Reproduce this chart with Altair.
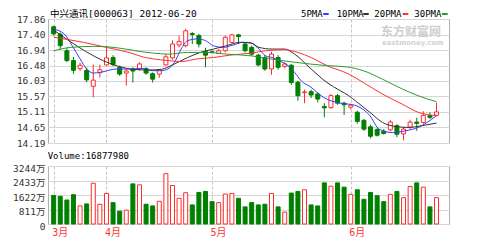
import altair as alt
import pandas as pd

FONT = "DejaVu Sans Mono, Noto Sans CJK SC"

# ---------------- data ----------------
opens = [17.63, 17.41, 16.92, 16.63, 16.39, 16.34, 15.87, 16.27, 16.50, 16.72,
         16.43, 16.26, 16.37, 16.38, 16.39, 16.24, 16.23, 16.50, 16.71, 17.09,
         17.07, 17.43, 17.37, 16.90, 16.89, 16.84, 16.92, 17.17, 17.39, 17.12,
         17.02, 16.79, 16.72, 16.38, 16.72, 16.46, 16.49, 15.99, 15.68, 15.71,
         15.64, 15.27, 15.24, 15.59, 15.37, 15.25, 15.10, 14.86, 14.67, 14.59,
         14.54, 14.58, 14.70, 14.46, 14.66, 14.81, 14.80, 15.00, 15.01]
highs = [17.66, 17.46, 17.01, 16.74, 16.57, 16.42, 16.51, 16.51, 17.02, 16.79,
         16.48, 16.37, 16.43, 16.58, 16.43, 16.28, 16.38, 16.82, 17.23, 17.37,
         17.57, 17.48, 17.42, 17.01, 16.93, 16.97, 17.37, 17.42, 17.42, 17.17,
         17.07, 16.83, 16.79, 16.89, 16.79, 16.58, 16.53, 16.03, 15.77, 15.77,
         15.69, 15.37, 15.64, 15.64, 15.41, 15.35, 15.15, 14.90, 14.73, 14.63,
         14.60, 14.87, 14.75, 14.67, 14.88, 14.94, 15.13, 15.10, 15.38]
lows = [17.37, 16.95, 16.58, 16.24, 16.33, 15.99, 15.54, 16.13, 16.48, 16.46,
        16.18, 15.89, 15.98, 16.33, 16.21, 15.98, 16.12, 16.48, 16.66, 17.02,
        17.02, 17.12, 17.02, 16.43, 16.84, 16.82, 16.87, 17.14, 17.12, 16.87,
        16.77, 16.46, 16.33, 16.21, 16.36, 16.40, 15.91, 15.44, 15.37, 15.52,
        15.39, 14.95, 15.20, 15.32, 15.02, 15.18, 14.76, 14.55, 14.33, 14.38,
        14.44, 14.54, 14.36, 14.27, 14.60, 14.55, 14.76, 14.90, 14.98]
closes = [17.42, 17.07, 16.63, 16.34, 16.49, 16.06, 16.05, 16.36, 16.71, 16.51,
          16.23, 16.32, 16.32, 16.53, 16.26, 16.08, 16.35, 16.74, 17.12, 17.19,
          17.51, 17.40, 17.12, 16.79, 16.87, 16.92, 17.32, 17.39, 17.34, 16.92,
          16.82, 16.50, 16.38, 16.82, 16.43, 16.53, 15.98, 15.59, 15.70, 15.61,
          15.49, 15.23, 15.59, 15.37, 15.32, 15.31, 14.83, 14.60, 14.39, 14.42,
          14.47, 14.81, 14.45, 14.60, 14.81, 14.77, 15.01, 14.95, 15.11]
volumes = [1600, 1546, 1343, 1638, 1012, 1122, 2282, 1104, 1711, 1196,
           718, 773, 2245, 2190, 1104, 1012, 1270, 2815, 2153, 1435,
           1748, 1067, 1766, 1822, 1251, 1196, 1674, 1711, 1435, 957,
           1196, 1067, 1104, 1711, 957, 662, 1730, 1822, 1914, 1067,
           1010, 2300, 2116, 2300, 2061, 1656, 1914, 1380, 1766, 1582,
           1251, 1656, 1822, 1472, 2098, 2300, 2061, 957, 1472]  # 万

ma5_i = [0, 1.6, 2.8, 4, 5, 6, 7, 9.5, 11.4, 13.4, 15, 16.3, 17.3, 18.3, 19.3, 20.3,
         21.8, 23, 24.2, 25.7, 27.2, 28.7, 29.9, 31.1, 32.1, 33.1, 34.1, 35.5, 36.5,
         37.5, 39, 40.5, 42, 43.4, 44.7, 45.9, 47.9, 49.3, 51.3, 53.3, 55.2, 58]
ma5_v = [17.56, 17.42, 17.07, 16.68, 16.38, 16.26, 16.28, 16.38, 16.38, 16.40, 16.33,
         16.33, 16.38, 16.58, 16.97, 17.22, 17.27, 17.22, 17.07, 17.02, 17.09, 17.17,
         17.15, 16.97, 16.77, 16.72, 16.63, 16.48, 16.28, 16.03, 15.84, 15.59, 15.44,
         15.37, 15.34, 15.29, 15.00, 14.60, 14.50, 14.55, 14.65, 15.00]
ma10_i = [0, 10, 12, 14.4, 16.3, 18.3, 20.3, 22.2, 24.2, 26.2, 28.2, 29.9, 31.1, 33.1,
          35, 36.5, 39, 41.4, 43.4, 44.7, 45.9, 47.9, 49.8, 51.8, 53.8, 55.7, 58]
ma10_v = [17.53, 16.45, 16.37, 16.35, 16.37, 16.53, 16.72, 16.87, 16.97, 17.07, 17.17,
          17.15, 17.02, 16.97, 16.97, 16.82, 16.38, 15.98, 15.74, 15.59, 15.41, 15.10,
          14.80, 14.68, 14.65, 14.70, 14.78]
ma20_i = [0, 4.5, 8, 11.4, 13.9, 15.1, 17.3, 19.3, 21.8, 24.2, 26.7, 29.9, 32.1, 35,
          37, 39, 41.4, 44.7, 46.9, 49.8, 52.8, 55.2, 58]
ma20_v = [17.32, 17.17, 17.02, 16.87, 16.72, 16.68, 16.63, 16.60, 16.68, 16.72, 16.79,
          16.85, 16.92, 16.95, 16.87, 16.72, 16.48, 16.23, 15.98, 15.64, 15.34, 15.10,
          15.00]
ma30_i = [0, 2.6, 6, 8, 10.9, 13.4, 15.1, 17.3, 20.3, 23.2, 26.2, 29.9, 32.1, 36.5,
          41.4, 44.5, 46.9, 49.8, 52.8, 55.2, 58]
ma30_v = [16.92, 17.02, 17.05, 17.04, 16.97, 16.89, 16.85, 16.82, 16.87, 16.87, 16.82,
          16.77, 16.70, 16.58, 16.48, 16.44, 16.33, 16.08, 15.79, 15.59, 15.41]

month_pos = [0, 8, 24, 45]
month_lab = ["3月", "4月", "5月", "6月"]
price_ticks = [14.19, 14.65, 15.11, 15.57, 16.03, 16.48, 16.94, 17.40, 17.86]
vol_ticks = [0, 811, 1622, 2433, 3244]
ma_names = ["5PMA", "10PMA", "20PMA", "30PMA"]
ma_colors = ["#3b3bff", "#333333", "#ff3030", "#2e9a2e"]

# ---------------- tables ----------------
df = pd.DataFrame({"i": list(range(len(opens))), "o": opens, "h": highs,
                   "l": lows, "c": closes, "v": volumes})
df["dir"] = ["up" if c >= o else "down" for o, c in zip(opens, closes)]

rows = []
for name, xs, vs in zip(ma_names, [ma5_i, ma10_i, ma20_i, ma30_i],
                        [ma5_v, ma10_v, ma20_v, ma30_v]):
    for x, v in zip(xs, vs):
        rows.append({"i": x, "v": v, "s": name})
ma = pd.DataFrame(rows)

RED = "#ff2a2a"
GREEN = "#008000"
fill_scale = alt.Scale(domain=["up", "down"], range=["#ffffff", GREEN])
stroke_scale = alt.Scale(domain=["up", "down"], range=[RED, GREEN])
xscale = alt.Scale(domain=[-0.1, 59.13], nice=False, zero=False)

lab_expr = "[" + ",".join("'%s'" % m for m in month_lab) + "][indexof([" + \
    ",".join(str(p) for p in month_pos) + "], datum.value)]"

x_price_axis = alt.Axis(values=month_pos, labels=False, ticks=False, domain=False,
                        grid=True, gridDash=[3, 2], gridColor="#c4c4c4", title=None)
x_vol_axis = alt.Axis(values=month_pos, labelExpr=lab_expr, ticks=False, domain=False,
                      grid=True, gridDash=[3, 2], gridColor="#c4c4c4", title=None,
                      labelColor="#ff3333", labelFont=FONT, labelFontSize=10,
                      labelAlign="left", labelBaseline="top", labelPadding=3,
                      labelOffset=-2, labelFlush=False, labelOverlap=False)

p_axis = alt.Axis(values=price_ticks, format=".2f", grid=True, gridColor="#d6d6d6",
                  domain=False, ticks=False, labelPadding=3, labelFont=FONT,
                  labelFontSize=9.5, labelColor="#333333", title=None,
                  labelFlush=False, labelOverlap=False)
pscale = alt.Scale(domain=[14.19, 17.86], nice=False, zero=False)
v_axis = alt.Axis(values=vol_ticks, grid=True, gridColor="#d6d6d6", domain=False,
                  ticks=False, labelPadding=3, labelFont=FONT, labelFontSize=9.5,
                  labelColor="#333333", title=None, labelFlush=False,
                  labelOverlap=False, labelOffset=2,
                  labelExpr="datum.value == 0 ? '0' : datum.value + '万'")
vscale = alt.Scale(domain=[0, 3244], nice=False, zero=True)


def XP():
    return alt.X("i:Q", scale=xscale, axis=x_price_axis)


def YP(f):
    return alt.Y(f, scale=pscale, axis=p_axis)


def text(txt, x, y, size=9, color="#000000", **kw):
    return alt.Chart(pd.DataFrame({"t": [txt]})).mark_text(
        align="left", baseline="middle", font=kw.pop("font", FONT), fontSize=size,
        color=color, **kw).encode(text="t:N", x=alt.value(x), y=alt.value(y))


def dash(x1, x2, y, color):
    return alt.Chart(pd.DataFrame({"t": [0]})).mark_rule(
        strokeWidth=2, color=color).encode(x=alt.value(x1), x2=alt.value(x2),
                                           y=alt.value(y))


base = alt.Chart(df)
wick = base.mark_rule(strokeWidth=1).encode(
    x=XP(), y=YP("l:Q"), y2="h:Q",
    stroke=alt.Stroke("dir:N", scale=stroke_scale, legend=None))
body = base.mark_bar(width=4, strokeWidth=1).encode(
    x=XP(), y=YP("o:Q"), y2="c:Q",
    fill=alt.Fill("dir:N", scale=fill_scale, legend=None),
    stroke=alt.Stroke("dir:N", scale=stroke_scale, legend=None))
lines = alt.Chart(ma).mark_line(strokeWidth=1, interpolate="monotone").encode(
    x=XP(), y=YP("v:Q"),
    color=alt.Color("s:N", scale=alt.Scale(domain=ma_names, range=ma_colors),
                    legend=None))

texts = [
    text("中兴通讯[000063] 2012-06-20", 2, -5.5, size=9.5),
    text("东方财富网", 333, 12.5, size=12, color="#cfcfcf", font="Noto Sans CJK SC",
         fontWeight="bold"),
    text("eastmoney.com", 334, 24, size=7, color="#d2d2d2", font="DejaVu Sans",
         fontWeight="bold"),
]
leg_x = [253, 288.7, 326.3, 366.3]
dash_x = [(275.3, 280.7), (315.3, 320.7), (354.7, 360.3), (394, 399.7)]
for name, lx, (d1, d2), col in zip(ma_names, leg_x, dash_x, ma_colors):
    texts.append(text(name, lx, -5.5, size=9))
    texts.append(dash(d1, d2, -5, col))

price = alt.layer(wick, body, lines, *texts).properties(width=401, height=124)

vbars = base.mark_bar(width=4, strokeWidth=1).encode(
    x=alt.X("i:Q", scale=xscale, axis=x_vol_axis),
    y=alt.Y("v:Q", scale=vscale, axis=v_axis),
    fill=alt.Fill("dir:N", scale=fill_scale, legend=None),
    stroke=alt.Stroke("dir:N", scale=stroke_scale, legend=None))
vol_label = text("Volume:16877980", -0.3, -10, size=9)
volume = alt.layer(vbars, vol_label).properties(width=401, height=58)

chart = alt.vconcat(price, volume, spacing=23, bounds="flush").properties(
    padding={"left": 12, "top": 8, "right": 0, "bottom": 0}
).configure_view(stroke="#b0b0b0", strokeWidth=1)

chart.save("out.html", embed_options={"renderer": "svg", "actions": False})
